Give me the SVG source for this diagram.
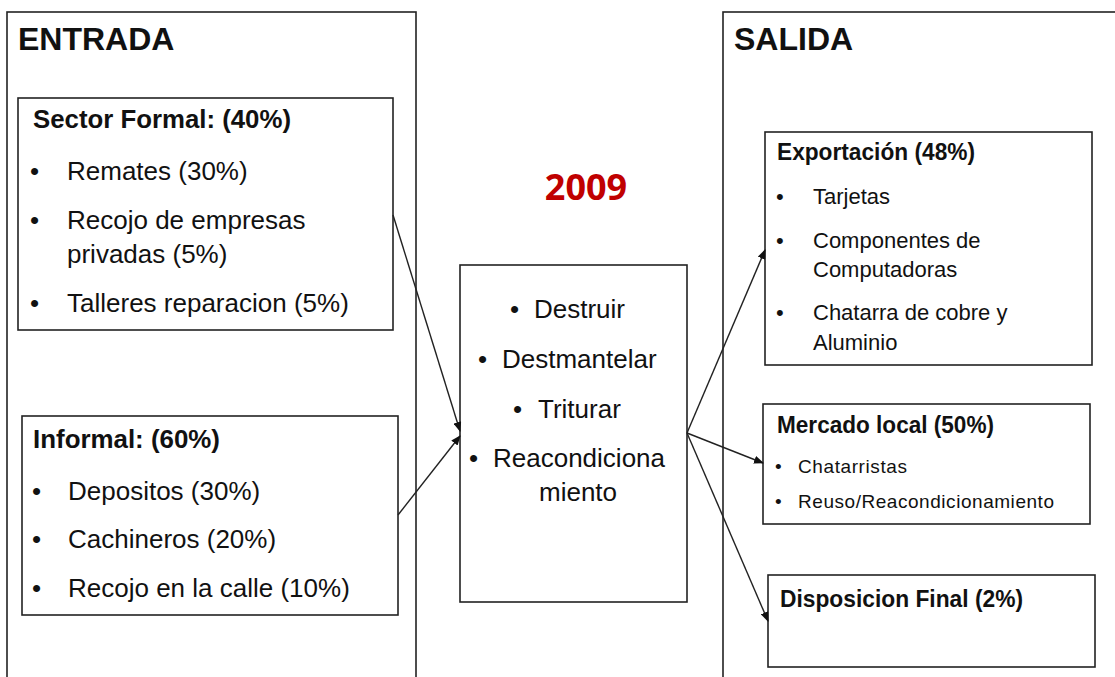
<svg xmlns="http://www.w3.org/2000/svg" width="1115" height="677" viewBox="0 0 1115 677">
<style>
text{font-family:"Liberation Sans",Arial,sans-serif;fill:#111}
.box{fill:#fff;stroke:#222;stroke-width:1.6}
.title{font-size:32px;font-weight:bold}
.hd{font-size:26px;font-weight:bold}
.hs{font-size:24px;font-weight:bold}
.it{font-size:26px}
.is{font-size:22px}
.ix{font-size:19px}
.yr{font-family:"Open Sans","Liberation Sans",sans-serif;font-size:36px;font-weight:bold;fill:#C00000}
.con{stroke:#222;stroke-width:1.4;fill:none;marker-end:url(#ah)}
</style>
<defs>
<marker id="ah" markerWidth="10" markerHeight="8" refX="9" refY="4" orient="auto" markerUnits="userSpaceOnUse">
<path d="M0,0 L10,4 L0,8 Z" fill="#111"/>
</marker>
</defs>
<rect width="1115" height="677" fill="#fff"/>

<g id="entrada">
<rect class="box" x="7" y="12" width="409" height="700"/>
<text class="title" x="18" y="50">ENTRADA</text>
</g>

<g id="salida">
<rect class="box" x="723" y="12" width="420" height="700"/>
<text class="title" x="734" y="50">SALIDA</text>
</g>

<g id="sector-formal">
<rect class="box" x="18" y="98" width="375" height="232"/>
<text class="hd" x="33" y="128" textLength="258" lengthAdjust="spacingAndGlyphs">Sector Formal: (40%)</text>
<text class="it" x="30" y="180">•</text><text class="it" x="67" y="180">Remates (30%)</text>
<text class="it" x="30" y="229">•</text><text class="it" x="67" y="229">Recojo de empresas</text>
<text class="it" x="67" y="263">privadas (5%)</text>
<text class="it" x="30" y="312">•</text><text class="it" x="67" y="312">Talleres reparacion (5%)</text>
</g>

<g id="informal">
<rect class="box" x="22" y="416" width="376" height="199"/>
<text class="hd" x="33" y="448" textLength="187" lengthAdjust="spacingAndGlyphs">Informal: (60%)</text>
<text class="it" x="32" y="500">•</text><text class="it" x="68" y="500">Depositos (30%)</text>
<text class="it" x="32" y="548">•</text><text class="it" x="68" y="548">Cachineros (20%)</text>
<text class="it" x="32" y="597">•</text><text class="it" x="68" y="597">Recojo en la calle (10%)</text>
</g>

<g id="year">
<text class="yr" x="586" y="200" text-anchor="middle">2009</text>
</g>

<g id="proceso">
<rect class="box" x="460" y="265" width="227" height="337"/>
<text class="it" x="510" y="318">•</text><text class="it" x="534" y="318">Destruir</text>
<text class="it" x="478" y="368">•</text><text class="it" x="502" y="368">Destmantelar</text>
<text class="it" x="513" y="418">•</text><text class="it" x="538" y="418">Triturar</text>
<text class="it" x="469" y="467">•</text><text class="it" x="493" y="467">Reacondiciona</text>
<text class="it" x="539" y="501">miento</text>
</g>

<g id="exportacion">
<rect class="box" x="765" y="132" width="327" height="233"/>
<text class="hs" x="777" y="160" textLength="198" lengthAdjust="spacingAndGlyphs">Exportación (48%)</text>
<text class="is" x="776" y="204">•</text><text class="is" x="813" y="204">Tarjetas</text>
<text class="is" x="776" y="248">•</text><text class="is" x="813" y="248">Componentes de</text>
<text class="is" x="813" y="277">Computadoras</text>
<text class="is" x="776" y="320">•</text><text class="is" x="813" y="320">Chatarra de cobre y</text>
<text class="is" x="813" y="350">Aluminio</text>
</g>

<g id="mercado-local">
<rect class="box" x="763" y="404" width="327" height="120"/>
<text class="hs" x="777" y="433" textLength="217" lengthAdjust="spacingAndGlyphs">Mercado local (50%)</text>
<text class="ix" x="775" y="473">•</text><text class="ix" x="798" y="473" textLength="109" lengthAdjust="spacing">Chatarristas</text>
<text class="ix" x="775" y="508">•</text><text class="ix" x="798" y="508" textLength="256" lengthAdjust="spacing">Reuso/Reacondicionamiento</text>
</g>

<g id="disposicion-final">
<rect class="box" x="768" y="575" width="327" height="92"/>
<text class="hs" x="780" y="607" textLength="243" lengthAdjust="spacingAndGlyphs">Disposicion Final (2%)</text>
</g>

<g id="connectors">
<line class="con" x1="393" y1="215" x2="460" y2="431"/>
<line class="con" x1="398" y1="515" x2="460" y2="436"/>
<line class="con" x1="687" y1="433" x2="765" y2="250"/>
<line class="con" x1="687" y1="433" x2="763" y2="463"/>
<line class="con" x1="687" y1="433" x2="768" y2="621"/>
</g>
</svg>
